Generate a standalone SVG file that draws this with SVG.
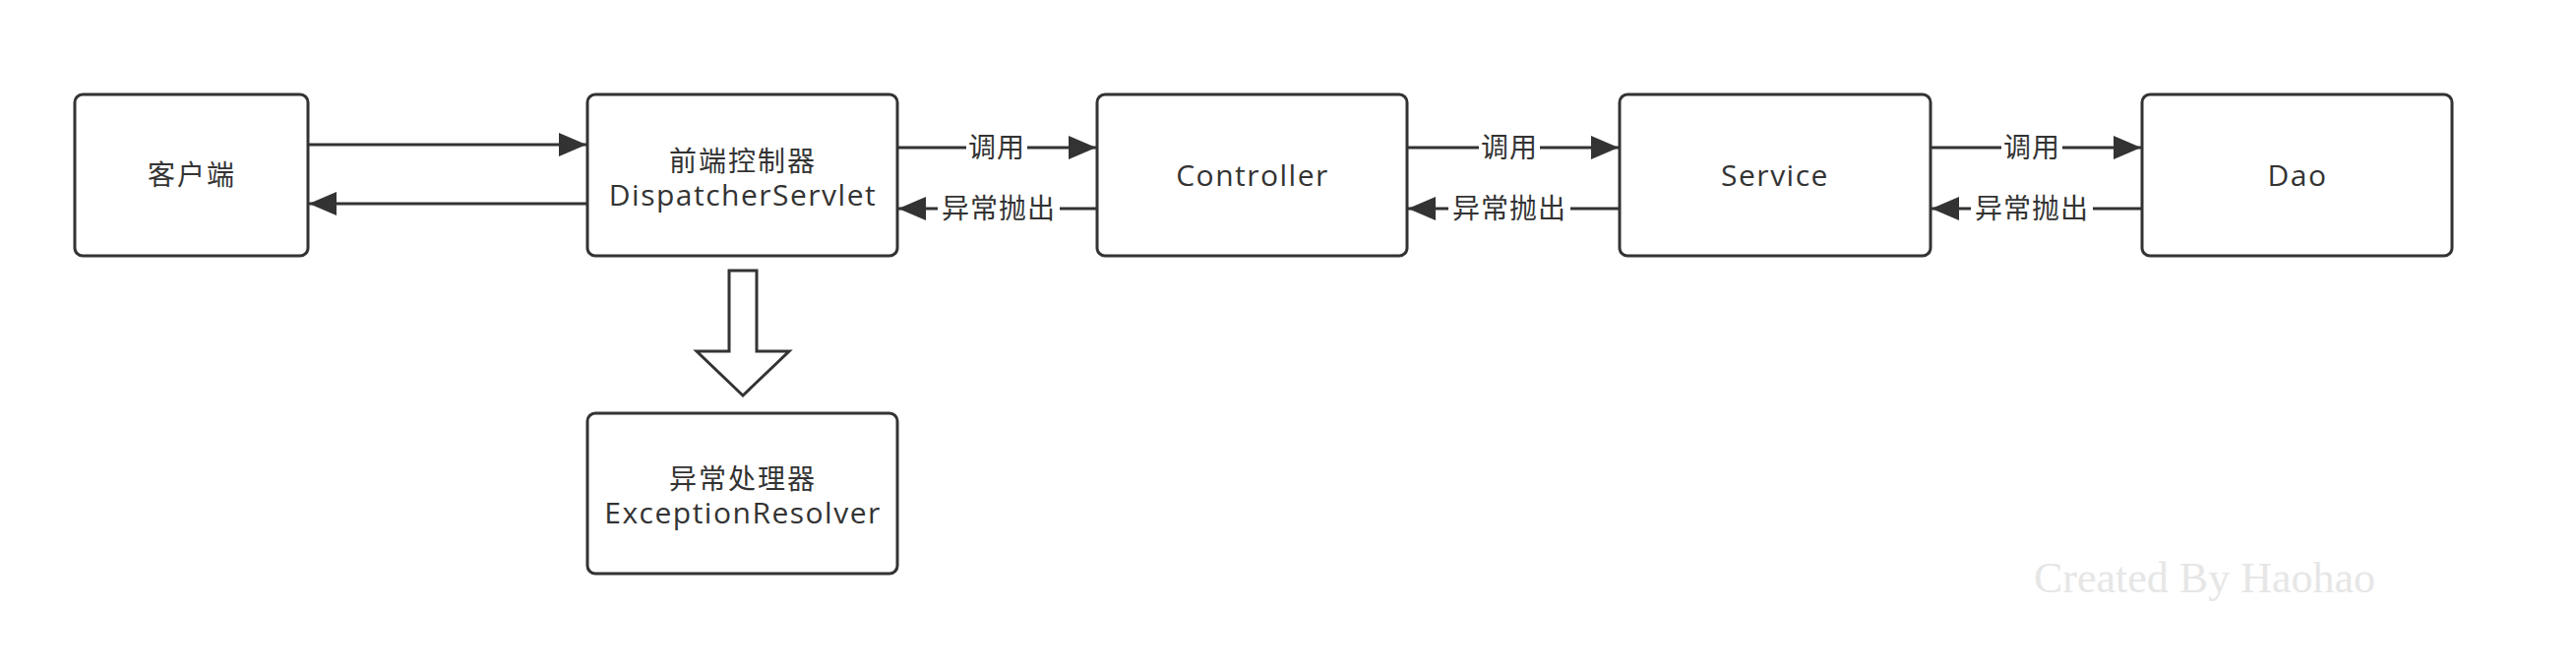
<svg xmlns="http://www.w3.org/2000/svg" width="2618" height="682" viewBox="0 0 2618 682">
  <style>
    .box { fill: #ffffff; stroke: #333333; stroke-width: 3; }
    .lat { font-family: "Open Sans", "Noto Sans", "Noto Sans CJK SC", sans-serif; font-size: 30px; letter-spacing: 1.5px; fill: #333333; text-anchor: middle; }
    .cjk { font-family: "Noto Sans CJK SC", "Noto Sans", sans-serif; font-size: 28px; letter-spacing: 2px; fill: #333333; text-anchor: middle; }
    .edge { stroke: #333333; stroke-width: 3; fill: none; }
    .lbl { font-family: "Noto Sans CJK SC", sans-serif; font-size: 28px; letter-spacing: 1px; fill: #333333; text-anchor: middle; }
    .lblbg { fill: #ffffff; }
    .wm { font-family: "Liberation Serif", serif; font-size: 44px; fill: #e6e6e6; }
  </style>
  <defs>
    <marker id="ah" viewBox="0 0 28 24" refX="28" refY="12" markerWidth="28" markerHeight="24" markerUnits="userSpaceOnUse" orient="auto">
      <path d="M0,0 L28,12 L0,24 Z" fill="#333333"/>
    </marker>
  </defs>
  <rect width="2618" height="682" fill="#ffffff"/>

  <g id="client">
    <rect class="box" x="76" y="96" width="237" height="164" rx="8"/>
    <text class="cjk" x="195" y="188">客户端</text>
  </g>
  <g id="dispatcher">
    <rect class="box" x="597" y="96" width="315" height="164" rx="8"/>
    <text class="cjk" x="755" y="174">前端控制器</text>
    <text class="lat" x="755" y="209">DispatcherServlet</text>
  </g>
  <g id="controller">
    <rect class="box" x="1115" y="96" width="315" height="164" rx="8"/>
    <text class="lat" x="1273" y="189">Controller</text>
  </g>
  <g id="service">
    <rect class="box" x="1646" y="96" width="316" height="164" rx="8"/>
    <text class="lat" x="1804" y="189">Service</text>
  </g>
  <g id="dao">
    <rect class="box" x="2177" y="96" width="315" height="164" rx="8"/>
    <text class="lat" x="2335" y="189">Dao</text>
  </g>
  <g id="resolver">
    <rect class="box" x="597" y="420" width="315" height="163" rx="8"/>
    <text class="cjk" x="755" y="497">异常处理器</text>
    <text class="lat" x="755" y="532">ExceptionResolver</text>
  </g>

  <g id="connectors">
    <line class="edge" x1="313" y1="147" x2="596" y2="147" marker-end="url(#ah)"/>
    <line class="edge" x1="597" y1="207" x2="314" y2="207" marker-end="url(#ah)"/>

    <line class="edge" x1="912" y1="150" x2="1114" y2="150" marker-end="url(#ah)"/>
    <rect class="lblbg" x="982" y="134" width="62" height="32"/>
    <text class="lbl" x="1013" y="160">调用</text>
    <line class="edge" x1="1115" y1="212" x2="913" y2="212" marker-end="url(#ah)"/>
    <rect class="lblbg" x="953" y="196" width="124" height="32"/>
    <text class="lbl" x="1015" y="222">异常抛出</text>

    <line class="edge" x1="1430" y1="150" x2="1645" y2="150" marker-end="url(#ah)"/>
    <rect class="lblbg" x="1503" y="134" width="62" height="32"/>
    <text class="lbl" x="1534" y="160">调用</text>
    <line class="edge" x1="1646" y1="212" x2="1431" y2="212" marker-end="url(#ah)"/>
    <rect class="lblbg" x="1472" y="196" width="124" height="32"/>
    <text class="lbl" x="1534" y="222">异常抛出</text>

    <line class="edge" x1="1962" y1="150" x2="2176" y2="150" marker-end="url(#ah)"/>
    <rect class="lblbg" x="2034" y="134" width="62" height="32"/>
    <text class="lbl" x="2065" y="160">调用</text>
    <line class="edge" x1="2177" y1="212" x2="1963" y2="212" marker-end="url(#ah)"/>
    <rect class="lblbg" x="2003" y="196" width="124" height="32"/>
    <text class="lbl" x="2065" y="222">异常抛出</text>

    <path class="edge" d="M741,275 L769,275 L769,357 L802,357 L755,402 L708,357 L741,357 Z" fill="#ffffff"/>
  </g>

  <text class="wm" x="2067" y="602">Created By Haohao</text>
</svg>
